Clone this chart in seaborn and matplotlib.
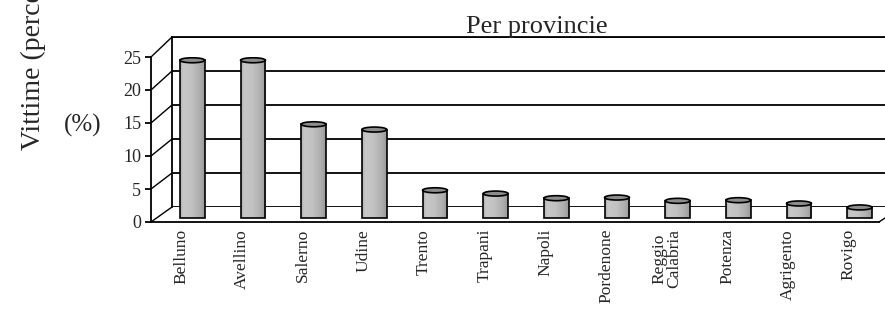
import numpy as np
import matplotlib
matplotlib.use("Agg")
import matplotlib.pyplot as plt
import matplotlib.transforms as mtransforms
from matplotlib.lines import Line2D
from matplotlib.patches import Ellipse
import seaborn as sns
import pandas as pd

categories = ["Belluno", "Avellino", "Salerno", "Udine", "Trento", "Trapani",
              "Napoli", "Pordenone", "Reggio\nCalabria", "Potenza", "Agrigento", "Rovigo"]
values = [23.9, 23.9, 14.2, 13.4, 4.2, 3.7, 3.0, 3.1, 2.6, 2.7, 2.2, 1.6]
yticks = [0, 5, 10, 15, 20, 25]

sns.set_theme(style="white")
plt.rcParams['font.family'] = ['Liberation Serif', 'DejaVu Serif']

df = pd.DataFrame({"provincia": categories, "valore": values})

W, H = 885, 318
fig = plt.figure(figsize=(W / 100, H / 100), dpi=100)

def fx(px):
    return px / W

def fy(py):
    return 1 - py / H

# back wall (gridlines)
axb = fig.add_axes([fx(172), fy(207), fx(885) - fx(172), fy(37) - fy(207)], zorder=0)
axb.set_ylim(0, 25)
axb.set_xlim(0, 1)
for t in yticks:
    axb.axhline(t, color="black", linewidth=1.3)
axb.set_xticks([])
axb.set_yticks([])
for s in ["right", "bottom"]:
    axb.spines[s].set_visible(False)
for s in ["left", "top"]:
    axb.spines[s].set_color("black")
    axb.spines[s].set_linewidth(1.3)
axb.patch.set_alpha(0)

# front axes (ticks, labels, bars)
ax = fig.add_axes([fx(151), fy(222), fx(879) - fx(151), fy(57) - fy(222)], zorder=2)
ax.patch.set_alpha(0)

sns.barplot(data=df, x="provincia", y="valore", color="#b0b0b0", width=0.41,
            edgecolor="black", linewidth=1.2, ax=ax, zorder=3)

ax.set_ylim(0, 25)
ax.set_xlim(-0.5, len(categories) - 0.5)

# 3D-like offset of the bars (towards the back wall)
shift = mtransforms.ScaledTranslation(11 / 100, 4 / 100, fig.dpi_scale_trans)
grad = np.linspace(0, 1, 64)
shade = np.interp(grad, [0, 0.12, 0.45, 0.8, 1.0], [0.68, 0.78, 0.76, 0.68, 0.6])
img = np.tile(shade, (2, 1))
unit_px = (222 - 57) / 25.0
patches = list(ax.patches)
for p in patches:
    p.set_transform(ax.transData + shift)
    p.set_facecolor("none")
    x0, y0 = p.get_x(), p.get_y()
    w, h = p.get_width(), p.get_height()
    im = ax.imshow(img, cmap="gray", vmin=0, vmax=1, aspect="auto",
                   extent=(x0, x0 + w, y0, y0 + h), zorder=2.5,
                   transform=ax.transData + shift)
    im.set_clip_path(p)
    p.set_zorder(3)
    top = Ellipse((x0 + w / 2, y0 + h), w, 5 / unit_px, facecolor="#8c8c8c",
                  edgecolor="black", linewidth=1.2, zorder=4,
                  transform=ax.transData + shift)
    ax.add_patch(top)
ax.set_xlim(-0.5, len(categories) - 0.5)
ax.set_ylim(0, 25)

ax.set_yticks(yticks)
ax.set_yticklabels([str(t) for t in yticks], fontsize=13)
ax.set_xticks(range(len(categories)))
ax.set_xticklabels(categories, rotation=90, fontsize=12.5, va="top", linespacing=0.85)
ax.set_xticks(np.arange(-0.5, len(categories), 1), minor=True)
ax.tick_params(axis="x", which="major", length=0, pad=5)
ax.tick_params(axis="x", which="minor", length=5, width=1.3, color="black", direction="out")
ax.tick_params(axis="y", length=4, width=1.3, color="black", direction="out", left=True, pad=3)
for s in ["left", "bottom"]:
    ax.spines[s].set_visible(True)
    ax.spines[s].set_color("black")
    ax.spines[s].set_linewidth(1.3)
for s in ["right", "top"]:
    ax.spines[s].set_visible(False)
ax.set_xlabel("")
ax.set_ylabel("")

# side-wall connectors between front axis and back wall
for t in yticks:
    yf = 222 - t * (222 - 57) / 25
    yb = 207 - t * (207 - 37) / 25
    fig.add_artist(Line2D([fx(151), fx(172)], [fy(yf), fy(yb)], color="black",
                          linewidth=1.0, transform=fig.transFigure, zorder=1))
fig.add_artist(Line2D([fx(879), fx(885)], [fy(222), fy(218)], color="black",
                      linewidth=1.0, transform=fig.transFigure, zorder=1))

fig.text(fx(537), fy(33), "Per provincie", fontsize=19, ha="center", va="baseline")
fig.text(fx(33), fy(150), "Vittime (percentuale)", fontsize=20, rotation=90,
         ha="center", va="bottom")
fig.text(fx(83), fy(125), "(%)", fontsize=18, ha="center", va="center")

fig.savefig("out.png", dpi=100, facecolor="white")
